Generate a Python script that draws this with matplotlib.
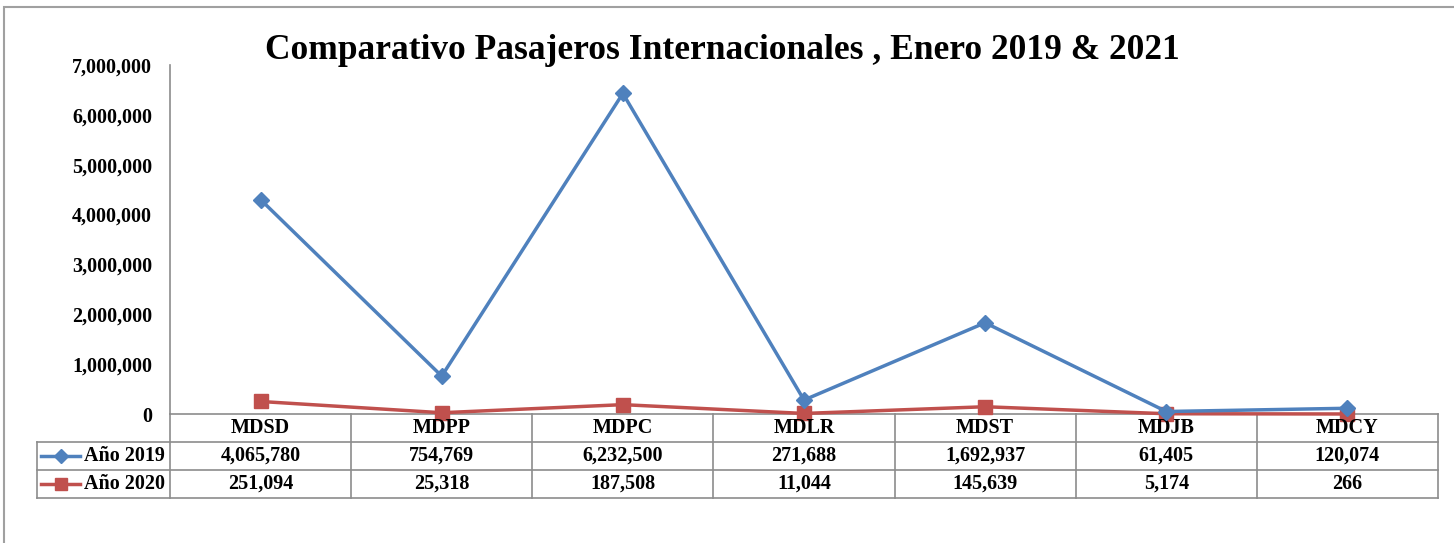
import matplotlib
matplotlib.use("Agg")
import matplotlib.pyplot as plt
from matplotlib.lines import Line2D
from matplotlib.patches import Rectangle

plt.rcParams["font.family"] = ["Liberation Serif", "DejaVu Serif"]
plt.rcParams["font.weight"] = "bold"

aeropuertos = ["MDSD", "MDPP", "MDPC", "MDLR", "MDST", "MDJB", "MDCY"]
# valores de la linea (no coinciden del todo con la tabla)
linea_2019 = [4300000, 760000, 6430000, 280000, 1830000, 50000, 115000]
linea_2020 = [251094, 25318, 187508, 11044, 145639, 5174, 266]
# valores mostrados en la tabla
tabla_2019 = ["4,065,780", "754,769", "6,232,500", "271,688", "1,692,937", "61,405", "120,074"]
tabla_2020 = ["251,094", "25,318", "187,508", "11,044", "145,639", "5,174", "266"]
series = ["Año 2019", "Año 2020"]

azul = "#4F81BD"
rojo = "#C0504D"
gris = "#8C8C8C"
fs = 14.5

fig = plt.figure(figsize=(14.54, 5.43), dpi=100)
W, H = 1454, 543

# borde del area del grafico
fig.patches.append(Rectangle((4 / W, -0.1), 1.2, 1 - 7 / H + 0.1, transform=fig.transFigure,
                             fill=False, edgecolor="#A0A0A0", lw=1.5))

ax = fig.add_axes([170 / W, 1 - 414 / H, (1438 - 170) / W, (414 - 65) / H])
x = list(range(len(aeropuertos)))
ax.plot(x, linea_2019, color=azul, lw=2.5, marker="D", ms=8, clip_on=False, zorder=4)
ax.plot(x, linea_2020, color=rojo, lw=2.5, marker="s", ms=9.5, clip_on=False, zorder=3)

ax.set_xlim(-0.5, 6.5)
ax.set_ylim(0, 7000000)
ax.set_yticks(range(0, 7000001, 1000000))
ax.set_yticklabels([f"{v:,}" for v in range(0, 7000001, 1000000)])
ax.tick_params(axis="y", length=0, pad=13, labelsize=fs)
ax.set_xticks([])
for s in ["top", "right", "bottom"]:
    ax.spines[s].set_visible(False)
ax.spines["left"].set_color(gris)
ax.spines["left"].set_linewidth(1.2)

fig.text(722 / W, 1 - 59 / H, "Comparativo Pasajeros Internacionales , Enero 2019 & 2021",
         ha="center", va="baseline", fontsize=25.5, fontweight="bold")

# tabla de datos
tr = ax.get_xaxis_transform()
col_izq = -0.5 - 133 / 181.14
y_lineas = [0, -0.0794, -0.1605, -0.2407]
kw = dict(color=gris, lw=1.2, transform=tr, clip_on=False)

ax.add_line(Line2D([-0.5, 6.5], [0, 0], **kw))
for yl in y_lineas[1:]:
    ax.add_line(Line2D([col_izq, 6.5], [yl, yl], **kw))
for i in range(len(aeropuertos) + 1):
    ax.add_line(Line2D([i - 0.5, i - 0.5], [0, y_lineas[-1]], **kw))
ax.add_line(Line2D([col_izq, col_izq], [y_lineas[1], y_lineas[-1]], **kw))

y_txt = [-0.040, -0.120, -0.2006]
for i, nombre in enumerate(aeropuertos):
    ax.text(i, y_txt[0], nombre, transform=tr, ha="center", va="center", fontsize=fs)
    ax.text(i, y_txt[1], tabla_2019[i], transform=tr, ha="center", va="center", fontsize=fs)
    ax.text(i, y_txt[2], tabla_2020[i], transform=tr, ha="center", va="center", fontsize=fs)

for serie, yy, color, mk, ms in [(series[0], y_txt[1], azul, "D", 7),
                                 (series[1], y_txt[2], rojo, "s", 9)]:
    ax.add_line(Line2D([-1.212, -0.996], [yy, yy], color=color, lw=2.5, transform=tr, clip_on=False))
    ax.add_line(Line2D([-1.104], [yy], color=color, marker=mk, ms=ms, transform=tr, clip_on=False))
    ax.text(-0.53, yy, serie, transform=tr, ha="right", va="center", fontsize=fs)

fig.savefig("out.png", dpi=100)
